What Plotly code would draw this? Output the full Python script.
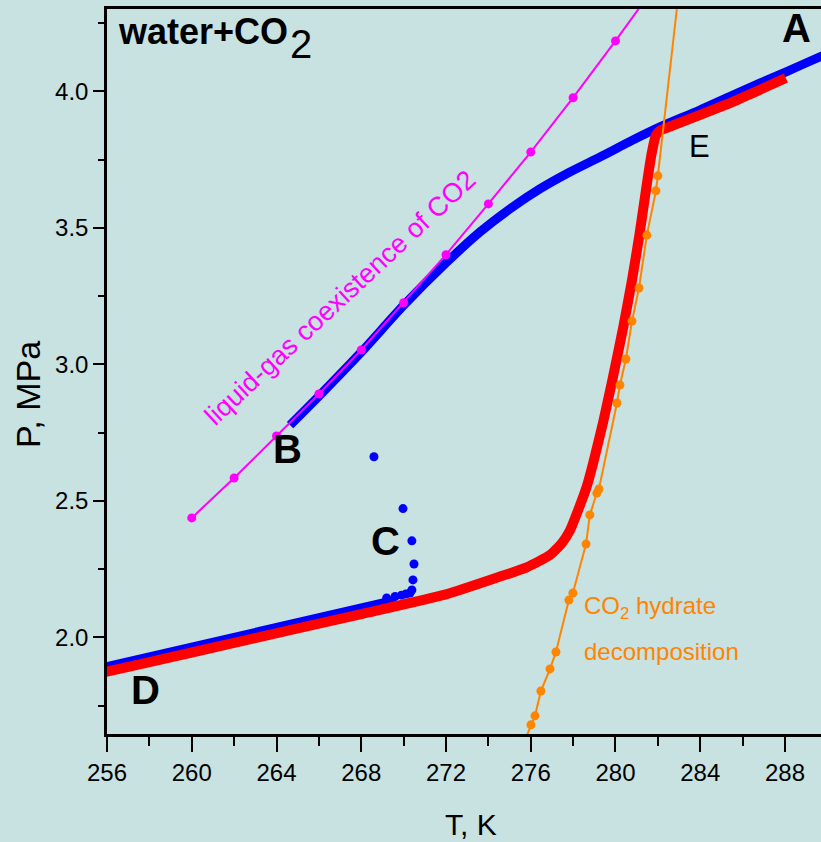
import plotly.graph_objects as go

# ---- data: temperature T (K) and pressure P (MPa) ----
# blue trace: lower branch, jump points near C, upper branch B -> A
blue_low_T = [255.5, 256.0, 260.0, 264.0, 268.0, 269.6]
blue_low_P = [1.884, 1.893, 1.963, 2.034, 2.106, 2.137]

blue_jump_T = [269.2, 269.6, 269.9, 270.1, 270.3, 270.39, 270.44, 270.49, 270.39, 269.97, 268.60]
blue_jump_P = [2.145, 2.150, 2.155, 2.159, 2.163, 2.174, 2.211, 2.269, 2.354, 2.472, 2.662]

blue_up_T = [264.64, 266.05, 268.02, 270.02, 272.03, 273.60, 275.02, 276.43, 277.85,
             279.27, 280.82, 282.10, 283.98, 285.54, 288.08, 289.65, 290.2]
blue_up_P = [2.778, 2.888, 3.047, 3.218, 3.374, 3.485, 3.570, 3.643, 3.705,
             3.760, 3.822, 3.870, 3.932, 3.987, 4.073, 4.127, 4.145]

# red trace: A -> E (upper branch), steep descent, lower branch -> D
red_T = [255.5, 256.0, 260.0, 264.64, 268.0, 272.0, 274.55, 275.81, 276.91, 277.46,
         277.85, 278.24, 278.64, 278.95, 279.42, 279.83, 280.35, 280.77, 281.13,
         281.46, 281.70, 281.91, 282.10, 282.33, 285.54, 288.04]
red_P = [1.866, 1.875, 1.945, 2.027, 2.086, 2.158, 2.223, 2.257, 2.302, 2.345,
         2.392, 2.467, 2.552, 2.640, 2.790, 2.935, 3.130, 3.305, 3.475,
         3.650, 3.770, 3.840, 3.857, 3.864, 3.962, 4.049]

# CO2 liquid-gas coexistence line
lg_T = [260, 262, 264, 266, 268, 270, 272, 274, 276, 278, 280, 282]
lg_P = [2.438, 2.584, 2.738, 2.892, 3.053, 3.226, 3.402, 3.588, 3.778, 3.977, 4.185, 4.40]

# CO2 hydrate decomposition line
hyd_T = [275.6, 276.01, 276.20, 276.48, 276.91, 277.19, 277.80, 277.99, 278.61, 278.79,
         279.12, 279.22, 280.07, 280.21, 280.49, 280.78, 281.11, 281.48, 281.91,
         282.00, 283.04]
hyd_P = [1.600, 1.680, 1.713, 1.804, 1.885, 1.947, 2.137, 2.163, 2.342, 2.449,
         2.529, 2.544, 2.859, 2.925, 3.020, 3.159, 3.280, 3.474, 3.636,
         3.691, 4.400]

x_ticks = [256, 260, 264, 268, 272, 276, 280, 284, 288]
y_ticks = [2.0, 2.5, 3.0, 3.5, 4.0]

BG = "#C8E1E1"
BLUE = "#0000FF"
RED = "#FF0000"
MAGENTA = "#FF00FF"
ORANGE = "#FF8400"
SANS = "Liberation Sans, Arial, sans-serif"

W, H = 821, 842
L, R, T, B = 107, 821, 9, 734


def px(x):
    return (x - L) / (R - L)


def py(y):
    return (B - y) / (B - T)


fig = go.Figure()

fig.add_trace(go.Scatter(x=blue_low_T, y=blue_low_P, mode="lines",
                         line=dict(color=BLUE, width=9), hoverinfo="skip"))
fig.add_trace(go.Scatter(x=blue_up_T, y=blue_up_P, mode="lines",
                         line=dict(color=BLUE, width=9, shape="spline", smoothing=0.8),
                         hoverinfo="skip"))
fig.add_trace(go.Scatter(x=blue_jump_T, y=blue_jump_P, mode="markers",
                         marker=dict(color=BLUE, size=9), hoverinfo="skip"))
fig.add_trace(go.Scatter(x=red_T, y=red_P, mode="lines",
                         line=dict(color=RED, width=10, shape="spline", smoothing=0.5),
                         hoverinfo="skip"))
fig.add_trace(go.Scatter(x=lg_T, y=lg_P, mode="lines+markers",
                         line=dict(color=MAGENTA, width=2),
                         marker=dict(color=MAGENTA, size=9), hoverinfo="skip"))
fig.add_trace(go.Scatter(x=hyd_T, y=hyd_P, mode="lines+markers",
                         line=dict(color=ORANGE, width=2),
                         marker=dict(color=ORANGE, size=9), hoverinfo="skip"))

ann = []


def text(x, y, s, size, color="black", xanchor="center", angle=0):
    ann.append(dict(x=px(x), y=py(y), xref="paper", yref="paper", text=s,
                    showarrow=False, xanchor=xanchor, yanchor="middle",
                    textangle=angle, font=dict(size=size, color=color, family=SANS)))


text(290, 32, "<b>water+CO</b>", 36, xanchor="right")
text(288, 44, "2", 40, xanchor="left")
text(796, 28, "<b>A</b>", 40)
text(287, 449, "<b>B</b>", 40)
text(385, 541, "<b>C</b>", 40)
text(145, 690, "<b>D</b>", 40)
text(699, 146, "E", 31)
text(340, 298, "liquid-gas coexistence of CO2", 27, color=MAGENTA, angle=-43)
text(582, 607, "CO<sub>2</sub> hydrate", 24, color=ORANGE, xanchor="left")
text(582, 651, "decomposition", 24, color=ORANGE, xanchor="left")
text(471, 824, "T, K", 30)
text(28, 395, "P, MPa", 34, angle=-90)

fig.update_layout(
    width=W, height=H,
    margin=dict(l=L, r=W - R, t=T, b=H - B, pad=0),
    paper_bgcolor=BG, plot_bgcolor=BG,
    showlegend=False,
    annotations=ann,
    font=dict(family=SANS, color="black"),
)

fig.update_xaxes(
    range=[256, 289.7], tickvals=x_ticks, ticktext=[str(v) for v in x_ticks],
    ticks="outside", ticklen=15, tickwidth=2, tickcolor="black",
    minor=dict(dtick=2, tick0=256, ticks="outside", ticklen=9, tickwidth=2, tickcolor="black"),
    showline=True, linecolor="black", linewidth=2.5, mirror=True,
    showgrid=False, zeroline=False,
    tickfont=dict(family=SANS, size=24, color="black"),
)
fig.update_yaxes(
    range=[1.6465, 4.302], tickvals=y_ticks, ticktext=[f"{v:.1f}" for v in y_ticks],
    ticks="outside", ticklen=11, tickwidth=2, tickcolor="black",
    minor=dict(dtick=0.25, tick0=2.0, ticks="outside", ticklen=6, tickwidth=2, tickcolor="black"),
    showline=True, linecolor="black", linewidth=2.5, mirror=False,
    showgrid=False, zeroline=False,
    tickfont=dict(family=SANS, size=24, color="black"),
)

fig.write_html("out.html")
